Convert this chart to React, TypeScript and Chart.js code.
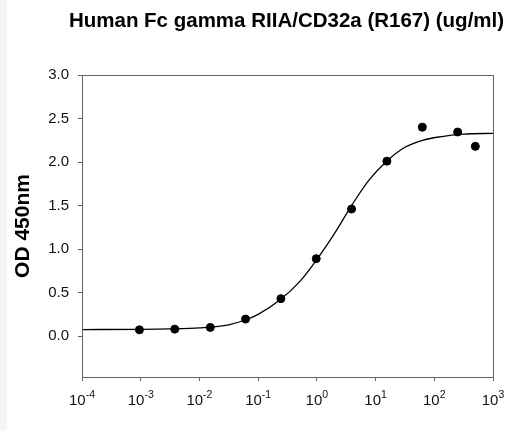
import React, { useEffect, useRef } from "react";
import { Chart, registerables } from "chart.js";

Chart.register(...registerables);

const FONT = "'Liberation Sans', Arial, Helvetica, sans-serif";

const TITLE = "Human Fc gamma RIIA/CD32a (R167) (ug/ml)";
const Y_TITLE = "OD 450nm";

// measured points (concentration, OD)
const pointConc = [0.00095, 0.0038, 0.0153, 0.061, 0.244, 0.977, 3.9, 15.6, 62.5, 250, 500];
const pointOD = [0.072, 0.08, 0.1, 0.195, 0.43, 0.89, 1.46, 2.01, 2.4, 2.345, 2.18];

// fitted curve
const curveConc = [0.0001, 0.001, 0.00316, 0.01, 0.0316, 0.06, 0.1, 0.24, 0.5, 1, 2, 3.9, 7.9, 15.5, 31.6, 63, 126, 316, 1000];
const curveOD = [0.075, 0.078, 0.083, 0.095, 0.13, 0.185, 0.25, 0.42, 0.62, 0.88, 1.18, 1.5, 1.8, 2.01, 2.17, 2.25, 2.29, 2.32, 2.33];

// axis ticks
const xTickValues = [0.0001, 0.001, 0.01, 0.1, 1, 10, 100, 1000];
const xTickBase = ["10", "10", "10", "10", "10", "10", "10", "10"];
const xTickExp = ["-4", "-3", "-2", "-1", "0", "1", "2", "3"];
const yTickValues = [0, 0.5, 1.0, 1.5, 2.0, 2.5, 3.0];
const Y_MIN = -0.47;
const Y_MAX = 3.0;
const X_MIN = 0.0001;
const X_MAX = 1000;

const framePlugin = {
  id: "frame",
  afterDraw(chart: any) {
    const { ctx, chartArea } = chart;
    const { left, right, top, bottom } = chartArea;
    ctx.save();
    ctx.strokeStyle = "#666";
    ctx.lineWidth = 1;
    ctx.strokeRect(Math.round(left) + 0.5, Math.round(top) + 0.5, Math.round(right) - Math.round(left), Math.round(bottom) - Math.round(top));
    ctx.restore();
  },
};

const titlePlugin = {
  id: "plotTitle",
  afterDraw(chart: any) {
    const { ctx, chartArea } = chart;
    ctx.save();
    ctx.fillStyle = "#000";
    ctx.font = `bold 20.5px ${FONT}`;
    ctx.textAlign = "center";
    ctx.textBaseline = "alphabetic";
    ctx.fillText(TITLE, (chartArea.left + chartArea.right) / 2 - 1, chartArea.top - 48);
    ctx.restore();
  },
};

const xLabelPlugin = {
  id: "xLabels",
  afterDraw(chart: any) {
    const ctx = chart.ctx;
    const xs = chart.scales.x;
    ctx.save();
    ctx.fillStyle = "#111";
    ctx.textBaseline = "alphabetic";
    ctx.textAlign = "left";
    xTickValues.forEach((v, i) => {
      const px = xs.getPixelForValue(v);
      ctx.font = `15px ${FONT}`;
      const bw = ctx.measureText(xTickBase[i]).width;
      ctx.font = `10.5px ${FONT}`;
      const ew = ctx.measureText(xTickExp[i]).width;
      const x0 = px - (bw + ew) / 2;
      ctx.font = `15px ${FONT}`;
      ctx.fillText(xTickBase[i], x0, xs.top + 28);
      ctx.font = `10.5px ${FONT}`;
      ctx.fillText(xTickExp[i], x0 + bw, xs.top + 21);
    });
    ctx.restore();
  },
};

export default function App() {
  const ref = useRef<HTMLCanvasElement | null>(null);

  useEffect(() => {
    if (!ref.current) return;
    Chart.defaults.font.family = FONT;
    const chart = new Chart(ref.current, {
      type: "scatter",
      data: {
        datasets: [
          {
            type: "line",
            label: "fit",
            data: curveConc.map((c, i) => ({ x: c, y: curveOD[i] })),
            borderColor: "#000",
            borderWidth: 1.3,
            pointRadius: 0,
            fill: false,
            cubicInterpolationMode: "monotone",
          } as any,
          {
            type: "scatter",
            label: "data",
            data: pointConc.map((c, i) => ({ x: c, y: pointOD[i] })),
            backgroundColor: "#000",
            borderColor: "#000",
            pointRadius: 4,
            pointHoverRadius: 4,
          },
        ],
      },
      options: {
        responsive: false,
        animation: false,
        layout: { padding: { left: 0, right: 20, top: 75, bottom: 0 } },
        plugins: {
          legend: { display: false },
          tooltip: { enabled: false },
          title: { display: false },
        },
        scales: {
          x: {
            type: "logarithmic",
            min: X_MIN,
            max: X_MAX,
            afterBuildTicks: (scale: any) => {
              scale.ticks = xTickValues.map((v) => ({ value: v }));
            },
            afterFit: (scale: any) => {
              scale.height = 53;
            },
            ticks: { callback: () => "", autoSkip: false, maxRotation: 0 },
            grid: { drawOnChartArea: false, drawTicks: true, tickLength: 4, color: "#666" },
            border: { display: false },
          },
          y: {
            type: "linear",
            min: Y_MIN,
            max: Y_MAX,
            afterBuildTicks: (scale: any) => {
              scale.ticks = yTickValues.map((v) => ({ value: v }));
            },
            afterFit: (scale: any) => {
              scale.width = 82;
            },
            ticks: {
              callback: (v: any) => Number(v).toFixed(1),
              color: "#111",
              font: { size: 15, family: FONT },
              padding: 9,
              autoSkip: false,
            },
            grid: { drawOnChartArea: false, drawTicks: true, tickLength: 4, color: "#666" },
            border: { display: false },
            title: {
              display: true,
              text: Y_TITLE,
              color: "#000",
              font: { size: 21, weight: "bold", family: FONT },
              padding: { top: 11, bottom: 0 },
            },
          },
        },
      },
      plugins: [framePlugin, xLabelPlugin, titlePlugin],
    } as any);
    return () => chart.destroy();
  }, []);

  return (
    <div style={{ position: "absolute", left: 0, top: 0, width: 513, height: 430, background: "#fff", overflow: "hidden" }}>
      <div style={{ position: "absolute", left: 0, top: 0, width: 7, height: 430, background: "#f5f5f5" }} />
      <canvas ref={ref} width={513} height={430} style={{ position: "absolute", left: 0, top: 0, width: 513, height: 430 }} />
    </div>
  );
}
